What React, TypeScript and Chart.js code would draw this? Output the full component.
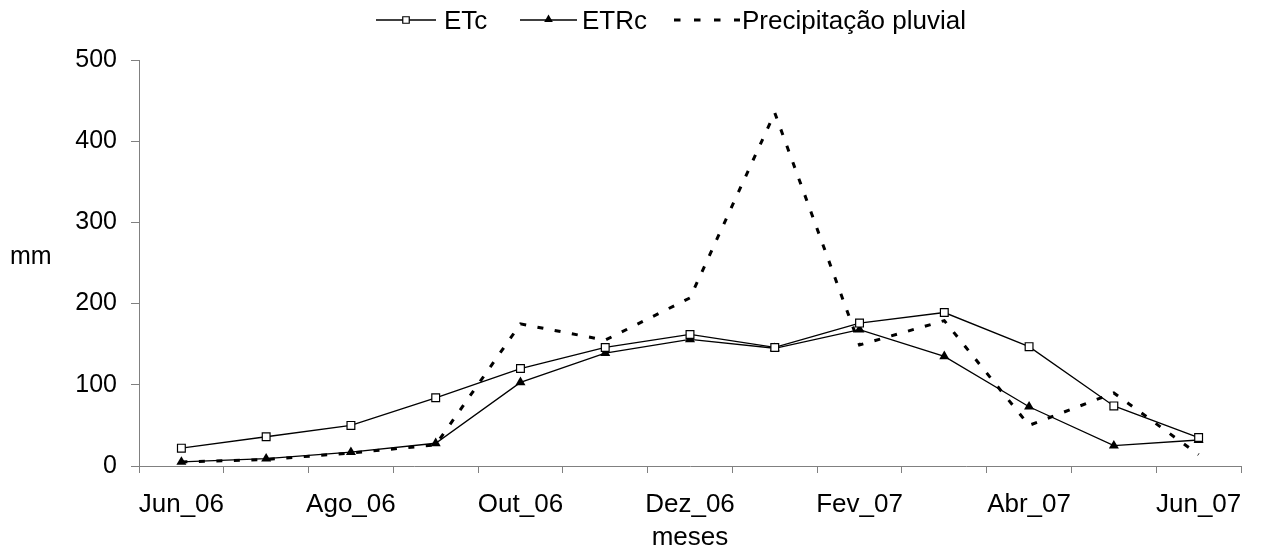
import React, { useEffect, useRef } from "react";
import { Chart, registerables } from "chart.js";

Chart.register(...registerables);

const months = ["Jun_06", "Jul_06", "Ago_06", "Set_06", "Out_06", "Nov_06", "Dez_06", "Jan_07", "Fev_07", "Mar_07", "Abr_07", "Mai_07", "Jun_07"];
const etc = [22, 36, 50, 84, 120, 146, 162, 146, 176, 189, 147, 74, 35];
const etrc = [5, 9, 17, 28, 103, 139, 156, 145, 168, 135, 73, 25, 32];
const precip = [5, 8, 16, 26, 175, 155, 207, 435, 149, 179, 50, 90, 14];
const seriesNames = ["ETc", "ETRc", "Precipitação pluvial"];
const yTitle = "mm";
const xTitle = "meses";

const FONT = '"Liberation Sans", Arial, sans-serif';
const FS_X = 26;
const FS_Y = 25;
const FS_L = 26;
const AXIS = "#808080";

function drawSquare(ctx: CanvasRenderingContext2D, x: number, y: number, s: number) {
  ctx.beginPath();
  ctx.rect(x - s / 2, y - s / 2, s, s);
  ctx.fillStyle = "#fff";
  ctx.fill();
  ctx.lineWidth = 1.2;
  ctx.strokeStyle = "#000";
  ctx.stroke();
}
function drawTri(ctx: CanvasRenderingContext2D, x: number, y: number, r: number) {
  ctx.beginPath();
  ctx.moveTo(x, y - r);
  ctx.lineTo(x + r * 0.866, y + r * 0.5);
  ctx.lineTo(x - r * 0.866, y + r * 0.5);
  ctx.closePath();
  ctx.fillStyle = "#000";
  ctx.fill();
}

const decor = {
  id: "decor",
  afterDraw(chart: any) {
    const ctx: CanvasRenderingContext2D = chart.ctx;
    const ca = chart.chartArea;
    ctx.save();
    ctx.fillStyle = "#000";
    ctx.textBaseline = "middle";
    ctx.textAlign = "left";
    ctx.font = `${FS_Y}px ${FONT}`;
    ctx.fillText(yTitle, 10, 257);
    ctx.textAlign = "center";
    ctx.font = `${FS_X}px ${FONT}`;
    ctx.fillText(xTitle, (ca.left + ca.right) / 2, 538);

    // legend
    ctx.font = `${FS_L}px ${FONT}`;
    const ly = 20;
    const items = [
      { x0: 376, x1: 436, tx: 444, kind: "sq" },
      { x0: 520, x1: 577, tx: 582, kind: "tri" },
      { x0: 674, x1: 740, tx: 742, kind: "dash" },
    ];
    items.forEach((it, i) => {
      ctx.save();
      ctx.strokeStyle = "#000";
      if (it.kind === "dash") {
        ctx.lineWidth = 3;
        ctx.setLineDash([6.5, 13.5]);
      } else {
        ctx.lineWidth = 1.3;
        ctx.setLineDash([]);
      }
      ctx.beginPath();
      ctx.moveTo(it.x0, ly);
      ctx.lineTo(it.x1, ly);
      ctx.stroke();
      ctx.setLineDash([]);
      const mx = (it.x0 + it.x1) / 2;
      if (it.kind === "sq") drawSquare(ctx, mx, ly, 6.5);
      if (it.kind === "tri") drawTri(ctx, mx, ly - 0.5, 5);
      ctx.restore();
      ctx.fillStyle = "#000";
      ctx.textAlign = "left";
      ctx.fillText(seriesNames[i], it.tx, ly + 2);
    });
    ctx.restore();
  },
};

export default function App() {
  const ref = useRef<HTMLCanvasElement | null>(null);
  useEffect(() => {
    if (!ref.current) return;
    Chart.defaults.font.family = FONT;
    Chart.defaults.color = "#000";
    const chart = new Chart(ref.current, {
      type: "line",
      data: {
        labels: months,
        datasets: [
          {
            label: seriesNames[0],
            data: etc,
            borderColor: "#000",
            borderWidth: 1.3,
            pointStyle: "rect",
            pointRadius: 5.5,
            pointBackgroundColor: "#fff",
            pointBorderColor: "#000",
            pointBorderWidth: 1.2,
            tension: 0,
          },
          {
            label: seriesNames[1],
            data: etrc,
            borderColor: "#000",
            borderWidth: 1.3,
            pointStyle: "triangle",
            pointRadius: 5.8,
            pointBackgroundColor: "#000",
            pointBorderColor: "#000",
            pointBorderWidth: 0,
            tension: 0,
          },
          {
            label: seriesNames[2],
            data: precip,
            borderColor: "#000",
            borderWidth: 3,
            borderDash: [6, 11.5],
            pointRadius: 0,
            tension: 0,
          },
        ],
      },
      options: {
        responsive: true,
        maintainAspectRatio: false,
        animation: false,
        layout: { padding: { top: 60, right: 20, left: 0, bottom: 0 } },
        plugins: { legend: { display: false }, tooltip: { enabled: false }, title: { display: false } },
        scales: {
          x: {
            offset: true,
            grid: { display: true, offset: true, drawOnChartArea: false, color: AXIS, tickLength: 7, lineWidth: 1 },
            border: { display: true, color: AXIS, width: 1 },
            ticks: {
              autoSkip: false,
              maxRotation: 0,
              minRotation: 0,
              padding: 16,
              font: { size: FS_X, family: FONT },
              color: "#000",
              callback: (_v: any, i: number) => (i % 2 === 0 ? months[i] : ""),
            },
            afterFit: (s: any) => {
              s.height = 89;
            },
          },
          y: {
            min: 0,
            max: 500,
            grid: { display: true, drawOnChartArea: false, color: AXIS, tickLength: 8, lineWidth: 1 },
            border: { display: true, color: AXIS, width: 1 },
            ticks: { stepSize: 100, padding: 14, font: { size: FS_Y, family: FONT }, color: "#000" },
            afterFit: (s: any) => {
              s.width = 139;
            },
          },
        },
      },
      plugins: [decor],
    });
    return () => chart.destroy();
  }, []);
  return (
    <div style={{ position: "fixed", left: 0, top: 0, width: 1261, height: 555, background: "#fff" }}>
      <canvas ref={ref} />
    </div>
  );
}
